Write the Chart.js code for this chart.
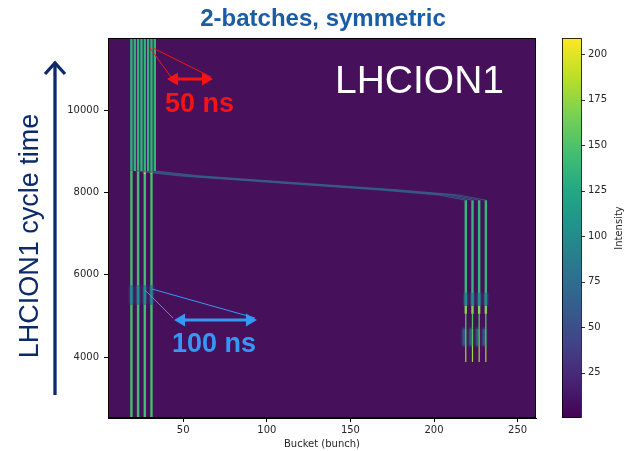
<!DOCTYPE html>
<html>
<head>
<meta charset="utf-8">
<script src="https://cdn.jsdelivr.net/npm/chart.js@4.4.1/dist/chart.umd.min.js"></script>
<style>
  html, body { margin: 0; padding: 0; background: #fff; }
  #wrap { width: 625px; height: 451px; }
</style>
</head>
<body>
<div id="wrap"><canvas id="mrp" width="625" height="451"></canvas></div>
<script>
// buckets of the two 4-bunch batches (100 ns spacing)
const BATCH_1 = [19, 23, 27, 31];
const BATCH_2 = [219, 223, 227, 231];

// cycle time where traces end
const T_LAST = 11750;

// first batch: intensity holds from each time up to the next one
const B1_TIME = [2520, 5280, 5740, 8450, 8530];
const B1_INTENSITY = [145, 100, 145, 150, 135];
const B1_AT_MERGE = [150, 150, 205, 205];

// second batch before it is moved
const B2_TIME = [3880, 4270, 4700, 5050, 5250, 5560];
const B2_INTENSITY = [178, 155, 150, 170, 100, 138];

// rephasing of the second batch onto the first one
const SHIFT_TIME = [7810, 7935, 8060, 8230, 8400, 8520];
const SHIFT_BUCKETS = [0, -16, -52, -112, -171, -198];
const SHIFT_INTENSITY = 66;
const TOP_INTENSITY = 135;

// smeared spots along the traces
const B1_SPREAD_FROM = [5280];
const B1_SPREAD_TO = [5740];
const B1_SPREAD_I = [70];
const B2_SPREAD_FROM = [4270, 5250];
const B2_SPREAD_TO = [4700, 5560];
const B2_SPREAD_DB = [-1, 0];
const B2_SPREAD_I = [78, 88];

// axes
const X_TICKS = [50, 100, 150, 200, 250];
const Y_TICKS = [4000, 6000, 8000, 10000];
const CB_TICKS = [25, 50, 75, 100, 125, 150, 175, 200];
const CB_MIN = 0, CB_MAX = 209;

// line widths per second-batch segment (style)
const B2_WIDTH = [1.2, 1.3, 1.3, 2.4, 2.4, 2.4];
const LINE_W = 2.4;
const SPREAD_W = 3;

const VIRIDIS = ['#440154', '#482475', '#414487', '#355f8d', '#2a788e', '#21918c',
  '#22a884', '#44bf70', '#7ad151', '#bddf26', '#fde725'];

function hexRgb(h) {
  return [parseInt(h.slice(1, 3), 16), parseInt(h.slice(3, 5), 16), parseInt(h.slice(5, 7), 16)];
}
function viridis(v) {
  let f = (v - CB_MIN) / (CB_MAX - CB_MIN);
  f = Math.max(0, Math.min(1, f));
  const pos = f * 10;
  const i = Math.min(9, Math.floor(pos));
  const r = pos - i;
  const a = hexRgb(VIRIDIS[i]), b = hexRgb(VIRIDIS[i + 1]);
  const c = a.map((x, k) => Math.round(x + (b[k] - x) * r));
  return `rgb(${c[0]},${c[1]},${c[2]})`;
}

function traceSet(points, order, blur) {
  return {
    data: points,
    showLine: true,
    pointRadius: 0,
    borderCapStyle: 'butt',
    order,
    blur: blur || 0,
    segment: {
      borderColor: c => viridis(c.p0.raw.v),
      borderWidth: c => c.p0.raw.w
    }
  };
}

const datasets = [];

// smears underneath the narrow traces
BATCH_1.forEach(b => {
  B1_SPREAD_FROM.forEach((t0, j) => {
    datasets.push(traceSet([
      {x: b, y: t0, v: B1_SPREAD_I[j], w: SPREAD_W},
      {x: b, y: B1_SPREAD_TO[j], v: 0, w: SPREAD_W}
    ], 3, 0.8));
  });
});
BATCH_2.forEach(b => {
  B2_SPREAD_FROM.forEach((t0, j) => {
    datasets.push(traceSet([
      {x: b + B2_SPREAD_DB[j], y: t0, v: B2_SPREAD_I[j], w: SPREAD_W},
      {x: b + B2_SPREAD_DB[j], y: B2_SPREAD_TO[j], v: 0, w: SPREAD_W}
    ], 3, 0.8));
  });
});

// first batch, sits still for the whole cycle
BATCH_1.forEach((b, k) => {
  const pts = B1_TIME.map((t, i) => ({
    x: b, y: t, v: i === 3 ? B1_AT_MERGE[k] : B1_INTENSITY[i], w: LINE_W
  }));
  pts.push({x: b, y: T_LAST, v: 0, w: LINE_W});
  datasets.push(traceSet(pts, 2));
});

// second batch, injected later and moved next to the first
BATCH_2.forEach(b => {
  const pts = B2_TIME.map((t, i) => ({x: b, y: t, v: B2_INTENSITY[i], w: B2_WIDTH[i]}));
  const last = SHIFT_TIME.length - 1;
  SHIFT_TIME.forEach((t, i) => {
    pts.push({
      x: b + SHIFT_BUCKETS[i], y: t,
      v: i < last ? SHIFT_INTENSITY : TOP_INTENSITY,
      w: i < last ? 0.8 : LINE_W
    });
  });
  pts.push({x: b + SHIFT_BUCKETS[last], y: T_LAST, v: 0, w: LINE_W});
  datasets.push(traceSet(pts, 1));
});

const BG = '#46115a';
const FONT = "'DejaVu Sans', sans-serif";
const HEAD = "'Liberation Sans', Arial, sans-serif";

function arrowHead(ctx, x, y, dir, len, half) {
  ctx.beginPath();
  ctx.moveTo(x, y);
  ctx.lineTo(x - dir * len, y - half);
  ctx.lineTo(x - dir * len, y + half);
  ctx.closePath();
  ctx.fill();
}

function doubleArrow(ctx, x0, x1, y, color) {
  ctx.strokeStyle = color;
  ctx.fillStyle = color;
  ctx.lineWidth = 3;
  ctx.beginPath();
  ctx.moveTo(x0 + 8, y);
  ctx.lineTo(x1 - 8, y);
  ctx.stroke();
  arrowHead(ctx, x1, y, 1, 11, 6.5);
  arrowHead(ctx, x0, y, -1, 11, 6.5);
}

const decor = {
  id: 'decor',
  beforeDatasetsDraw(chart) {
    const {ctx, chartArea: a} = chart;
    ctx.save();
    ctx.fillStyle = BG;
    ctx.fillRect(a.left, a.top, a.right - a.left, a.bottom - a.top);
    ctx.restore();
  },
  beforeDatasetDraw(chart, args) {
    const blur = chart.data.datasets[args.index].blur;
    chart.ctx.save();
    if (blur) chart.ctx.filter = `blur(${blur}px)`;
  },
  afterDatasetDraw(chart) {
    chart.ctx.restore();
  },
  afterDraw(chart) {
    const {ctx, chartArea: a} = chart;
    const xs = chart.scales.x, ys = chart.scales.y;
    const at = (b, t) => [xs.getPixelForValue(b), ys.getPixelForValue(t)];
    ctx.save();

    // frame
    ctx.strokeStyle = '#000';
    ctx.lineWidth = 1;
    ctx.strokeRect(a.left + 0.5, a.top + 0.5, a.right - a.left - 1, a.bottom - a.top - 1);

    // colour bar
    const cbL = 562, cbW = 19, cbT = a.top, cbB = a.bottom;
    const grad = ctx.createLinearGradient(0, cbB, 0, cbT);
    VIRIDIS.forEach((c, i) => grad.addColorStop(i / 10, c));
    ctx.fillStyle = grad;
    ctx.fillRect(cbL, cbT, cbW, cbB - cbT);
    ctx.strokeStyle = '#000';
    ctx.lineWidth = 0.8;
    ctx.strokeRect(cbL + 0.5, cbT + 0.5, cbW, cbB - cbT - 1);
    ctx.fillStyle = '#262626';
    ctx.font = `10px ${FONT}`;
    ctx.textAlign = 'left';
    ctx.textBaseline = 'middle';
    CB_TICKS.forEach(v => {
      const y = cbB - (v - CB_MIN) / (CB_MAX - CB_MIN) * (cbB - cbT);
      ctx.beginPath();
      ctx.moveTo(cbL + cbW, Math.round(y) + 0.5);
      ctx.lineTo(cbL + cbW + 4, Math.round(y) + 0.5);
      ctx.stroke();
      ctx.fillText(String(v), cbL + cbW + 7, y);
    });
    ctx.save();
    ctx.translate(619, (cbT + cbB) / 2);
    ctx.rotate(-Math.PI / 2);
    ctx.textAlign = 'center';
    ctx.fillText('Intensity', 0, 0);
    ctx.restore();

    // title
    ctx.fillStyle = '#1b5ca6';
    ctx.font = `bold 24px ${HEAD}`;
    ctx.textAlign = 'center';
    ctx.textBaseline = 'alphabetic';
    ctx.fillText('2-batches, symmetric', 323, 26);

    // machine name
    ctx.fillStyle = '#ffffff';
    ctx.font = `39px ${HEAD}`;
    ctx.textAlign = 'left';
    ctx.fillText('LHCION1', 335, 93);

    // 50 ns marker
    const red = '#f51414';
    ctx.strokeStyle = red;
    ctx.lineWidth = 1;
    let p0 = at(30.1, 11507), p1 = at(42.7, 10803);
    ctx.beginPath(); ctx.moveTo(...p0); ctx.lineTo(...p1); ctx.stroke();
    p0 = at(31.9, 11507); p1 = at(66.6, 10803);
    ctx.beginPath(); ctx.moveTo(...p0); ctx.lineTo(...p1); ctx.stroke();
    let [ax0, ay] = at(40.3, 10754);
    let [ax1] = at(67.8, 10754);
    doubleArrow(ctx, ax0, ax1, ay, red);
    ctx.fillStyle = red;
    ctx.font = `bold 27px ${HEAD}`;
    ctx.fillText('50 ns', ...at(39.1, 9953));

    // 100 ns marker
    const blue = '#3797f5';
    ctx.strokeStyle = blue;
    ctx.lineWidth = 1;
    p0 = at(27.1, 5629); p1 = at(43.9, 4949);
    ctx.beginPath(); ctx.moveTo(...p0); ctx.lineTo(...p1); ctx.stroke();
    p0 = at(31.3, 5653); p1 = at(92.9, 4949);
    ctx.beginPath(); ctx.moveTo(...p0); ctx.lineTo(...p1); ctx.stroke();
    [ax0, ay] = at(44.5, 4900);
    [ax1] = at(94.1, 4900);
    doubleArrow(ctx, ax0, ax1, ay, blue);
    ctx.fillStyle = blue;
    ctx.font = `bold 27px ${HEAD}`;
    ctx.fillText('100 ns', ...at(43.3, 4123));

    // cycle time arrow on the left
    const navy = '#0c2a6a';
    ctx.strokeStyle = navy;
    ctx.lineWidth = 3.3;
    ctx.beginPath();
    ctx.moveTo(55, 395);
    ctx.lineTo(55, 64);
    ctx.stroke();
    ctx.beginPath();
    ctx.moveTo(45, 74);
    ctx.lineTo(55, 63);
    ctx.lineTo(65, 74);
    ctx.stroke();
    ctx.save();
    ctx.translate(38, 236);
    ctx.rotate(-Math.PI / 2);
    ctx.fillStyle = navy;
    ctx.font = `27px ${HEAD}`;
    ctx.textAlign = 'center';
    ctx.fillText('LHCION1 cycle time', 0, 0);
    ctx.restore();

    ctx.restore();
  }
};

new Chart(document.getElementById('mrp'), {
  type: 'scatter',
  data: {datasets},
  plugins: [decor],
  options: {
    responsive: false,
    animation: false,
    events: [],
    layout: {padding: {left: 0, right: 89, top: 38, bottom: 0}},
    plugins: {legend: {display: false}, tooltip: {enabled: false}, title: {display: false}},
    scales: {
      x: {
        type: 'linear',
        min: 5,
        max: 261,
        afterBuildTicks: s => { s.ticks = X_TICKS.map(v => ({value: v})); },
        afterFit: s => { s.height = 33; },
        grid: {drawOnChartArea: false, drawTicks: true, tickLength: 4, color: '#000'},
        border: {display: true, color: '#000', width: 1},
        ticks: {font: {family: FONT, size: 10}, color: '#262626', padding: 2, maxRotation: 0,
          callback: v => String(v)},
        title: {display: true, text: 'Bucket (bunch)', font: {family: FONT, size: 10},
          color: '#262626', padding: {top: 0, bottom: 1}}
      },
      y: {
        type: 'linear',
        min: 2520,
        max: T_LAST,
        afterBuildTicks: s => { s.ticks = Y_TICKS.map(v => ({value: v})); },
        afterFit: s => { s.width = 108; },
        grid: {drawOnChartArea: false, drawTicks: true, tickLength: 4, color: '#000'},
        border: {display: true, color: '#000', width: 1},
        ticks: {font: {family: FONT, size: 10}, color: '#262626', padding: 5,
          callback: v => String(v)}
      }
    }
  }
});
</script>
</body>
</html>
